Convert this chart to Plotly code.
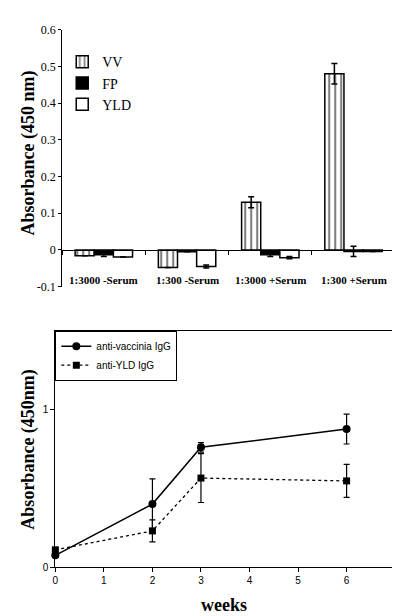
import plotly.graph_objects as go

# ---- Top chart data ----
categories = ["1:3000 -Serum", "1:300 -Serum", "1:3000 +Serum", "1:300 +Serum"]
vv_vals = [-0.016, -0.048, 0.130, 0.480]
vv_err = [0.0, 0.0, 0.015, 0.028]
fp_vals = [-0.013, -0.005, -0.013, -0.004]
fp_err = [0.005, 0.0, 0.005, 0.014]
yld_vals = [-0.019, -0.045, -0.021, -0.004]
yld_err = [0.0, 0.004, 0.003, 0.0]
top_ticks = [-0.1, 0, 0.1, 0.2, 0.3, 0.4, 0.5, 0.6]
top_ticktext = ["-0.1", "0", "0.1", "0.2", "0.3", "0.4", "0.5", "0.6"]

# ---- Bottom chart data ----
weeks = [0, 2, 3, 6]
vaccinia = [0.075, 0.40, 0.76, 0.876]
vaccinia_err = [0.01, 0.16, 0.03, 0.095]
yld_igg = [0.11, 0.23, 0.565, 0.547]
yld_igg_err = [0.01, 0.07, 0.155, 0.105]

W, H = 400, 616
def px(x): return x / W
def py(y): return 1 - y / H

SERIF = "Liberation Serif, Times New Roman, serif"
SANS = "Liberation Sans, Arial, sans-serif"

fig = go.Figure()
outline = dict(color="black", width=1.5)
ebar = dict(type="data", thickness=1.5, width=3, color="black")

fig.add_trace(go.Bar(x=categories, y=vv_vals, name="VV",
                     error_y=dict(array=vv_err, **ebar),
                     marker=dict(color="white", line=outline,
                                 pattern=dict(shape="|", fgcolor="black", bgcolor="white",
                                              size=6, solidity=0.35)),
                     xaxis="x", yaxis="y", legend="legend"))
fig.add_trace(go.Bar(x=categories, y=fp_vals, name="FP",
                     error_y=dict(array=fp_err, **ebar),
                     marker=dict(color="black", line=outline),
                     xaxis="x", yaxis="y", legend="legend"))
fig.add_trace(go.Bar(x=categories, y=yld_vals, name="YLD",
                     error_y=dict(array=yld_err, **ebar),
                     marker=dict(color="white", line=outline),
                     xaxis="x", yaxis="y", legend="legend"))

ebar2 = dict(type="data", thickness=1.2, width=3, color="black")
fig.add_trace(go.Scatter(x=weeks, y=vaccinia, name="anti-vaccinia IgG", mode="lines+markers",
                         line=dict(color="black", width=1.5),
                         marker=dict(symbol="circle", size=8, color="black"),
                         error_y=dict(array=vaccinia_err, **ebar2),
                         xaxis="x2", yaxis="y2", legend="legend2", cliponaxis=False))
fig.add_trace(go.Scatter(x=weeks, y=yld_igg, name="anti-YLD IgG", mode="lines+markers",
                         line=dict(color="black", width=1.3, dash="dot"),
                         marker=dict(symbol="square", size=7, color="black"),
                         error_y=dict(array=yld_igg_err, **ebar2),
                         xaxis="x2", yaxis="y2", legend="legend2", cliponaxis=False))

ytop_dom = [py(278), py(15)]
ytop_rng = [-0.1, 0.6]
zero_pos = ytop_dom[0] + (0 - ytop_rng[0]) / (ytop_rng[1] - ytop_rng[0]) * (ytop_dom[1] - ytop_dom[0])

annotations = []
for c in categories:
    annotations.append(dict(x=c, y=-0.082, xref="x", yref="y", text=c, showarrow=False,
                            font=dict(family=SERIF, size=11, color="black", weight="bold")))
annotations.append(dict(x=px(18), y=py(141), xref="paper", yref="paper", text="Absorbance (450 nm)",
                        textangle=-90, showarrow=False, xanchor="center", yanchor="middle",
                        font=dict(family=SERIF, size=18, color="black", weight="bold")))
annotations.append(dict(x=px(18), y=py(444), xref="paper", yref="paper", text="Absorbance (450nm)",
                        textangle=-90, showarrow=False, xanchor="center", yanchor="middle",
                        font=dict(family=SERIF, size=18, color="black", weight="bold")))
annotations.append(dict(x=px(216), y=py(604), xref="paper", yref="paper", text="weeks",
                        showarrow=False, xanchor="center", yanchor="middle",
                        font=dict(family=SERIF, size=18, color="black", weight="bold")))

fig.update_layout(
    width=W, height=H,
    margin=dict(l=0, r=0, t=0, b=0),
    paper_bgcolor="white", plot_bgcolor="white",
    barmode="group", bargap=0.31, bargroupgap=0,
    xaxis=dict(domain=[px(52), px(390)], anchor="free", position=zero_pos,
               type="category", showline=True, linecolor="black", linewidth=1,
               ticks="outside", tickson="boundaries", ticklen=4, tickcolor="black",
               showticklabels=False, showgrid=False, zeroline=False, fixedrange=True),
    yaxis=dict(domain=ytop_dom, range=ytop_rng, anchor="x",
               tickvals=top_ticks, ticktext=top_ticktext,
               showline=True, linecolor="black", linewidth=1,
               ticks="outside", ticklen=3, tickcolor="black",
               tickfont=dict(family=SERIF, size=12, color="black"),
               showgrid=False, zeroline=False),
    xaxis2=dict(domain=[px(45), px(390)], range=[0, 7], anchor="y2", dtick=1,
                showline=True, mirror=True, linecolor="black", linewidth=1,
                ticks="outside", ticklen=4, tickcolor="black",
                tickfont=dict(family=SANS, size=10, color="black"),
                showgrid=False, zeroline=False),
    yaxis2=dict(domain=[py(565), py(323)], range=[0, 1.5], anchor="x2",
                tickvals=[0, 1], ticktext=["0", "1"],
                showline=True, mirror=True, linecolor="black", linewidth=1,
                ticks="outside", ticklen=4, tickcolor="black",
                tickfont=dict(family=SANS, size=10, color="black"),
                showgrid=False, zeroline=False),
    legend=dict(x=px(52), y=py(32), xanchor="left", yanchor="top",
                font=dict(family=SERIF, size=14, color="black"),
                bgcolor="rgba(0,0,0,0)", borderwidth=0, itemwidth=30),
    legend2=dict(x=px(45), y=py(323), xanchor="left", yanchor="top",
                 font=dict(family=SANS, size=10, color="black"),
                 bgcolor="white", bordercolor="black", borderwidth=1, itemwidth=30),
    annotations=annotations,
    showlegend=True,
)

fig.write_html("out.html")
